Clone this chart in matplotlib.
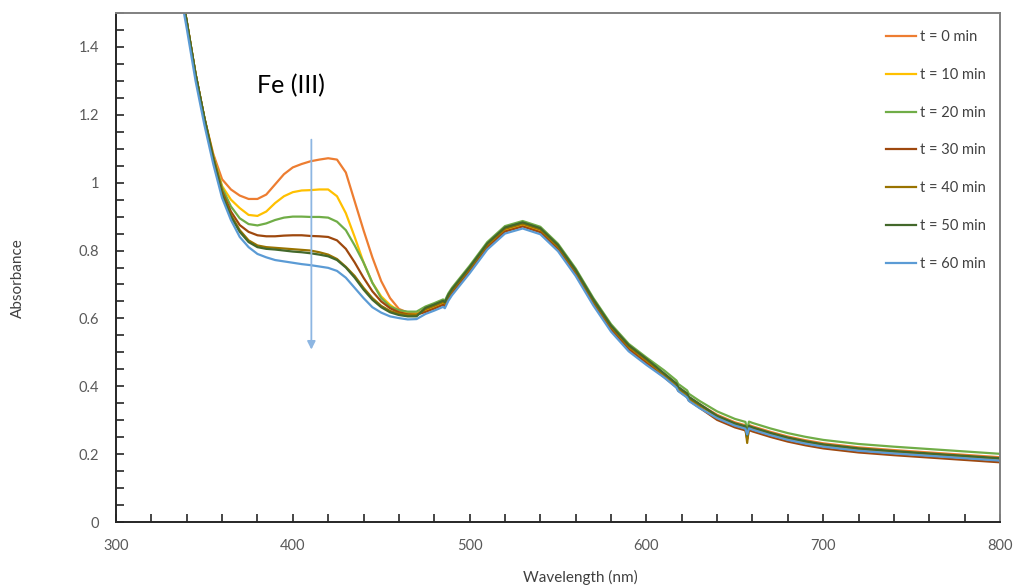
import numpy as np
import matplotlib
matplotlib.use("Agg")
import matplotlib.pyplot as plt
from matplotlib.ticker import MultipleLocator

plt.rcParams['font.family'] = ['Lato', 'DejaVu Sans']

# wavelength grid (nm)
wl = [335, 340, 345, 350, 355, 360, 365, 370, 375, 380, 385, 390, 395, 400, 405,
      410, 415, 420, 425, 430, 435, 440, 445, 450, 455, 460, 465, 470,
      475, 480, 485, 486, 488, 490, 500, 510, 520, 530, 540, 550, 560, 570, 580,
      590, 600, 610, 617, 618, 623, 624, 630, 640, 650, 656, 657, 658, 660, 670,
      680, 690, 700, 720, 740, 760, 780, 800]

t0 = [1.62, 1.475, 1.32, 1.19, 1.085,
      1.01, 0.98, 0.962, 0.952, 0.952, 0.965, 0.995, 1.025, 1.045, 1.055, 1.063, 1.068,
      1.072, 1.068, 1.03, 0.945, 0.86, 0.78, 0.71, 0.66, 0.628, 0.617, 0.615,
      0.625, 0.635, 0.646, 0.642, 0.664, 0.680, 0.745, 0.815, 0.862, 0.877, 0.860,
      0.810, 0.737, 0.650, 0.573, 0.515, 0.475, 0.437, 0.407, 0.397, 0.378, 0.368,
      0.347, 0.316, 0.294, 0.285, 0.262, 0.286, 0.282, 0.266, 0.252, 0.241, 0.232,
      0.220, 0.212, 0.205, 0.198, 0.191]

t10 = [1.62, 1.475, 1.32, 1.19, 1.08,
       0.99, 0.95, 0.925, 0.905, 0.902, 0.915, 0.94, 0.96, 0.972, 0.977, 0.978, 0.98,
       0.98, 0.96, 0.91, 0.84, 0.765, 0.705, 0.665, 0.64, 0.622, 0.614, 0.613,
       0.623, 0.633, 0.644, 0.636, 0.662, 0.678, 0.743, 0.813, 0.860, 0.875, 0.858,
       0.808, 0.735, 0.648, 0.571, 0.513, 0.473, 0.434, 0.404, 0.392, 0.373, 0.364,
       0.344, 0.312, 0.290, 0.281, 0.245, 0.282, 0.278, 0.262, 0.248, 0.237, 0.228,
       0.216, 0.208, 0.201, 0.194, 0.187]

t20 = [1.62, 1.475, 1.32, 1.19, 1.078,
       0.985, 0.93, 0.895, 0.878, 0.874, 0.88, 0.89, 0.897, 0.9, 0.9, 0.899, 0.899,
       0.897, 0.885, 0.86, 0.815, 0.765, 0.705, 0.66, 0.635, 0.624, 0.62, 0.62,
       0.635, 0.645, 0.656, 0.652, 0.674, 0.690, 0.755, 0.825, 0.872, 0.887, 0.870,
       0.820, 0.747, 0.660, 0.583, 0.525, 0.485, 0.447, 0.417, 0.407, 0.388, 0.378,
       0.357, 0.326, 0.304, 0.295, 0.270, 0.296, 0.292, 0.276, 0.262, 0.251, 0.242,
       0.230, 0.222, 0.215, 0.208, 0.201]

t30 = [1.62, 1.475, 1.32, 1.19, 1.075,
       0.975, 0.915, 0.875, 0.855, 0.845, 0.842, 0.842, 0.844, 0.845, 0.845, 0.843, 0.842,
       0.84, 0.83, 0.805, 0.765, 0.72, 0.68, 0.65, 0.63, 0.618, 0.612, 0.611,
       0.619, 0.629, 0.640, 0.636, 0.658, 0.674, 0.739, 0.809, 0.856, 0.871, 0.854,
       0.804, 0.731, 0.644, 0.567, 0.509, 0.469, 0.427, 0.397, 0.387, 0.368, 0.358,
       0.337, 0.301, 0.279, 0.270, 0.245, 0.271, 0.267, 0.251, 0.237, 0.226, 0.217,
       0.205, 0.197, 0.190, 0.183, 0.176]

t40 = [1.62, 1.475, 1.32, 1.19, 1.072,
       0.97, 0.905, 0.86, 0.83, 0.815, 0.81, 0.808, 0.806, 0.804, 0.802, 0.8, 0.795,
       0.788, 0.775, 0.752, 0.725, 0.69, 0.66, 0.637, 0.622, 0.614, 0.61, 0.61,
       0.627, 0.637, 0.648, 0.644, 0.666, 0.682, 0.747, 0.817, 0.864, 0.879, 0.862,
       0.812, 0.739, 0.652, 0.575, 0.517, 0.477, 0.435, 0.405, 0.393, 0.372, 0.364,
       0.345, 0.311, 0.289, 0.280, 0.233, 0.281, 0.277, 0.261, 0.247, 0.236, 0.227,
       0.215, 0.207, 0.200, 0.193, 0.186]

t50 = [1.62, 1.475, 1.32, 1.19, 1.07,
       0.965, 0.9, 0.855, 0.825, 0.81, 0.805, 0.803, 0.8, 0.797, 0.795, 0.792, 0.788,
       0.783, 0.772, 0.75, 0.72, 0.685, 0.655, 0.633, 0.618, 0.61, 0.606, 0.606,
       0.631, 0.641, 0.652, 0.648, 0.670, 0.686, 0.751, 0.821, 0.868, 0.883, 0.866,
       0.816, 0.743, 0.656, 0.579, 0.521, 0.481, 0.438, 0.408, 0.398, 0.379, 0.369,
       0.348, 0.313, 0.291, 0.282, 0.255, 0.283, 0.279, 0.263, 0.249, 0.238, 0.229,
       0.217, 0.209, 0.202, 0.195, 0.188]

t60 = [1.60, 1.455, 1.30, 1.17, 1.055,
       0.955, 0.89, 0.84, 0.81, 0.79, 0.78, 0.772, 0.768, 0.764, 0.76, 0.757, 0.753,
       0.749, 0.74, 0.72, 0.69, 0.66, 0.633, 0.617, 0.606, 0.601, 0.597, 0.598,
       0.613, 0.623, 0.634, 0.630, 0.652, 0.668, 0.733, 0.803, 0.850, 0.865, 0.848,
       0.798, 0.725, 0.638, 0.561, 0.503, 0.463, 0.426, 0.396, 0.386, 0.367, 0.357,
       0.336, 0.306, 0.284, 0.275, 0.258, 0.276, 0.272, 0.256, 0.242, 0.231, 0.222,
       0.210, 0.202, 0.195, 0.188, 0.181]

labels = ['t = 0 min', 't = 10 min', 't = 20 min', 't = 30 min',
          't = 40 min', 't = 50 min', 't = 60 min']
series = [t0, t10, t20, t30, t40, t50, t60]
colors = ['#ED7D31', '#FFC000', '#70AD47', '#9E480E', '#997300', '#43682B', '#5B9BD5']

fig = plt.figure(figsize=(10.14, 5.88), dpi=100)
ax = fig.add_axes([0.1144, 0.1122, 0.8718, 0.8657])

for s, c, lab in zip(series, colors, labels):
    ax.plot(wl, s, color=c, lw=1.6, label=lab)

ax.set_xlim(300, 800)
ax.set_ylim(0, 1.5)
ax.xaxis.set_major_locator(MultipleLocator(100))
ax.xaxis.set_minor_locator(MultipleLocator(20))
ax.yaxis.set_minor_locator(MultipleLocator(0.05))
ax.set_yticks([0, 0.2, 0.4, 0.6, 0.8, 1.0, 1.2, 1.4])
ax.set_yticklabels(['0', '0.2', '0.4', '0.6', '0.8', '1', '1.2', '1.4'])

ax.tick_params(which='both', direction='in', length=6, width=1.2, color='#262626',
               labelsize=10.5, labelcolor='#595959', pad=12)

for side in ['left', 'bottom']:
    ax.spines[side].set_color('#262626')
    ax.spines[side].set_linewidth(1.4)
for side in ['top', 'right']:
    ax.spines[side].set_color('#808080')
    ax.spines[side].set_linewidth(1.4)

ax.set_xlabel('Wavelength (nm)', fontsize=11, color='#404040')
ax.set_ylabel('Absorbance', fontsize=11, color='#404040')
ax.xaxis.set_label_coords(0.525, -0.094)
ax.yaxis.set_label_coords(-0.103, 0.48)

# Fe(III) label and downward arrow
ax.text(399, 1.285, 'Fe (III)', fontsize=18, color='black', ha='center', va='center')
ax.annotate('', xy=(410.5, 0.50), xytext=(410.5, 1.135),
            arrowprops=dict(arrowstyle='-|>', color='#8DB6E2', lw=1.3, mutation_scale=12))

leg = ax.legend(loc='upper left', bbox_to_anchor=(0.861, 0.971),
                bbox_transform=fig.transFigure, frameon=False, fontsize=10.5,
                handlelength=2.06, handletextpad=0.25, labelspacing=1.63)
for t in leg.get_texts():
    t.set_color('#404040')

fig.savefig('out.png', dpi=100)
